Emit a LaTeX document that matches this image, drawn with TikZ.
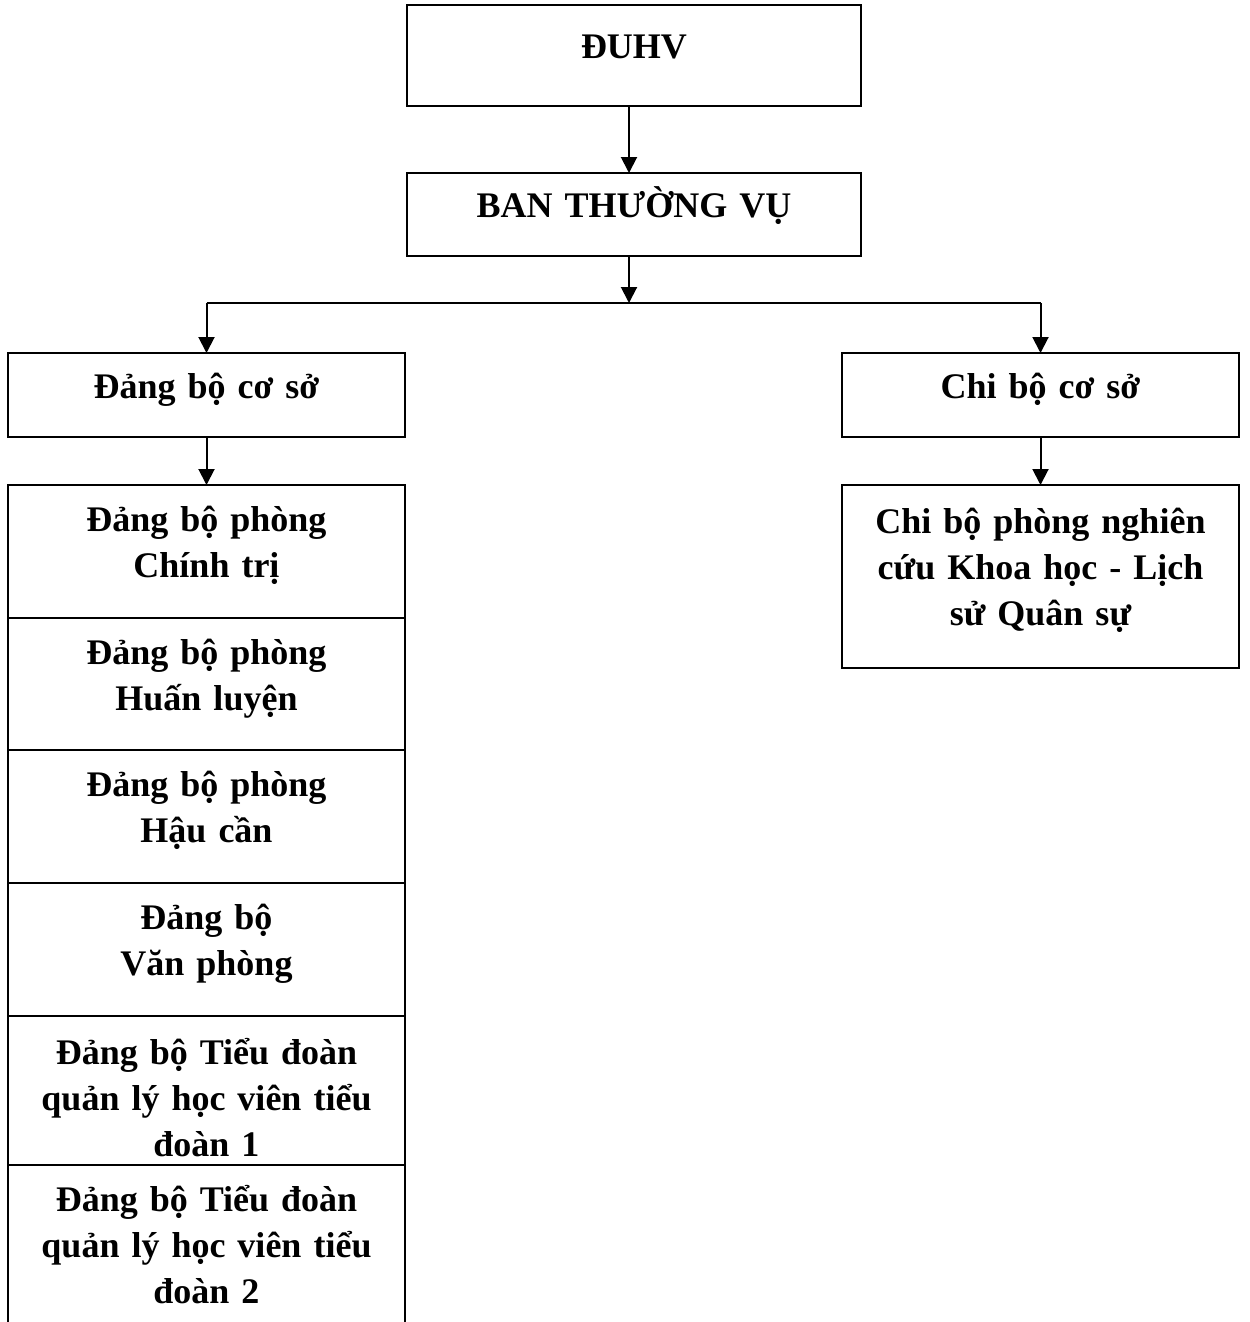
\documentclass[tikz,border=0pt]{standalone}
\usepackage{fontspec}
\setmainfont{Liberation Serif}
\usetikzlibrary{positioning,arrows.meta}

\tikzset{
  box/.style={draw, rectangle, line width=1pt, outer sep=0pt, minimum width=198.5pt,
    text width=190pt, align=center, font=\fontsize{18}{23}\selectfont\bfseries},
  unitbox/.style={box, execute at begin node={\strut},
    execute at end node={\rule[-13pt]{0pt}{13pt}}},
  tdbox/.style 2 args={box, inner ysep=3pt, execute at begin node={\rule{0pt}{#1}},
    execute at end node={\rule[-#2]{0pt}{#2}}},
  topbox/.style={unitbox, minimum width=227pt, text width=215pt},
  arr/.style={-{Triangle[length=8pt,width=8pt]}, line width=1pt}
}

\begin{document}
\begin{tikzpicture}
    \useasboundingbox (0,0) rectangle (624.5pt,-661pt);

    % top of the tree
    \node (duhv) [topbox, minimum height=50.5pt, anchor=north] at (317pt,-2.5pt) {ĐUHV};
    \node (btv) [topbox, minimum height=41.5pt, below=33.5pt of duhv] {BAN THƯỜNG VỤ};
    \coordinate (hub) at (314.5pt,-151.5pt);

    % two branches
    \node (dbcs) [unitbox, minimum height=42pt, anchor=north] at (103.25pt,-176.5pt) {Đảng bộ cơ sở};
    \node (cbcs) [unitbox, minimum height=42pt, anchor=north] at (520.25pt,-176.5pt) {Chi bộ cơ sở};

    % left column
    \node (ctri) [unitbox, minimum height=66.5pt, below=24pt of dbcs] {Đảng bộ phòng\\Chính trị};
    \node (hluyen) [unitbox, minimum height=66pt, below=0pt of ctri] {Đảng bộ phòng\\Huấn luyện};
    \node (hcan) [unitbox, minimum height=66.5pt, below=0pt of hluyen] {Đảng bộ phòng\\Hậu cần};
    \node (vphong) [unitbox, minimum height=66.5pt, below=0pt of hcan] {Đảng bộ\\Văn phòng};
    \node (td1) [tdbox={21pt}{1.5pt}, minimum height=74.5pt, below=0pt of vphong] {Đảng bộ Tiểu đoàn\\quản lý học viên tiểu\\đoàn 1};
    \node (td2) [tdbox={20pt}{20pt}, below=0pt of td1] {Đảng bộ Tiểu đoàn\\quản lý học viên tiểu\\đoàn 2};

    % right column
    \node (nckh) [unitbox, minimum height=91.5pt, below=24pt of cbcs] {Chi bộ phòng nghiên\\cứu Khoa học - Lịch\\sử Quân sự};

    \draw[arr] (duhv.south -| hub) -- (btv.north -| hub);
    \draw[arr] (btv.south -| hub) -- (hub);
    \draw[line width=1pt] (hub -| dbcs) -- (hub -| cbcs);
    \draw[arr] (hub -| dbcs) -- (dbcs);
    \draw[arr] (hub -| cbcs) -- (cbcs);
    \draw[arr] (dbcs) -- (ctri);
    \draw[arr] (cbcs) -- (nckh);
\end{tikzpicture}
\end{document}
